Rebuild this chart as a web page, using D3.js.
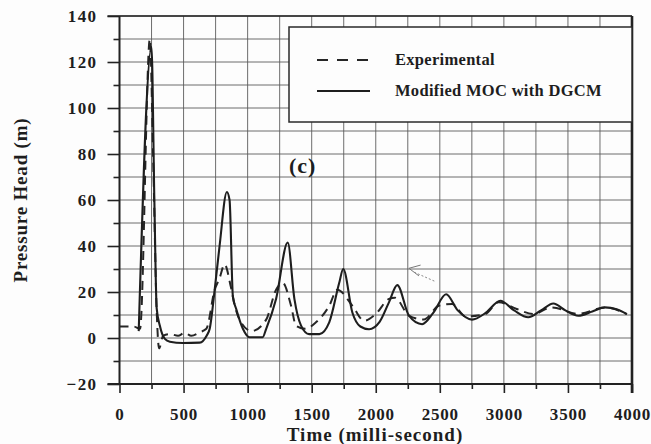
<!DOCTYPE html>
<html>
<head>
<meta charset="utf-8">
<title>Pressure head (c)</title>
<style type="text/css">
    body { margin: 0; background: #fdfdfd; }
    svg text {
        font-family: "Liberation Serif", "Times New Roman", serif;
        font-weight: bold;
        fill: #1e1e1e;
    }
    .grid line { stroke: #5c5c5c; stroke-width: 0.9; }
    .axis path { display: none; }
    .axis line { stroke: #222; stroke-width: 1.6; }
</style>
</head>
<body>
<script src="https://d3js.org/d3.v7.min.js" type="text/javascript"></script>
<script type="text/javascript">

// time (ms) / pressure head (m)
var modelT = [150, 250, 272, 290, 315, 354, 393, 494, 626, 680, 704, 743, 781, 838, 859, 885, 911, 963, 1015, 1117, 1145, 1222, 1313, 1365, 1417, 1480, 1560, 1637, 1715, 1746, 1818, 1880, 1948, 2030, 2103, 2168, 2259, 2362, 2450, 2549, 2640, 2751, 2860, 2972, 3080, 3190, 3290, 3386, 3480, 3581, 3690, 3788, 3880, 3960];
var modelH = [3, 126.5, 60, 13, 5.3, -0.4, -1.6, -2.2, -2, 1, 4, 21, 40, 63.5, 60, 18, 12.6, 4, 0.3, 0.3, 4, 17, 41.5, 17, 5.4, 1.7, 1.7, 6.8, 24, 30, 11, 5, 3.8, 7, 15.5, 23, 9.7, 6, 11, 19, 12, 8, 11, 16.2, 12, 9, 12, 15, 12, 9.7, 11.5, 13.3, 12.5, 10.4];

var expT = [0, 110, 160, 237, 262, 290, 309, 341, 393, 457, 509, 561, 626, 678, 743, 781, 820, 870, 900, 937, 1030, 1145, 1222, 1274, 1339, 1378, 1450, 1533, 1637, 1700, 1818, 1909, 2000, 2103, 2150, 2259, 2375, 2492, 2596, 2700, 2855, 2959, 3100, 3230, 3373, 3580, 3788, 3960];
var expH = [5, 5, 4, 130, 80, 12, -4.5, 1, 1.7, 1, 2.2, 1, 2.5, 4, 21, 26, 32, 22, 14, 8, 3, 8, 21, 24, 14, 5.3, 4, 6.8, 14, 21, 14, 7.5, 10.4, 17, 17.5, 9.7, 8, 14, 14.8, 9.4, 10.4, 15.5, 12.6, 10.4, 13.3, 10.5, 13.3, 10.4];

var xTicks = [0, 500, 1000, 1500, 2000, 2500, 3000, 3500, 4000];
var yTicks = [-20, 0, 20, 40, 60, 80, 100, 120, 140];
var seriesNames = ['Experimental', 'Modified MOC with DGCM'];

var W = 651, H = 444;
var svg = d3.select('body').append('svg')
    .attr('width', W).attr('height', H);

var x = d3.scaleLinear().domain([0, 4000]).range([119.5, 632]);
var y = d3.scaleLinear().domain([-20, 140]).range([384, 16]);

// grid
var grid = svg.append('g').attr('class', 'grid');
grid.selectAll('.gv').data(d3.range(250, 4000, 250)).enter().append('line')
    .attr('x1', function (d) { return x(d); }).attr('x2', function (d) { return x(d); })
    .attr('y1', y(-20)).attr('y2', y(140));
grid.selectAll('.gh').data(d3.range(-10, 150, 10)).enter().append('line')
    .attr('x1', x(0)).attr('x2', x(4000))
    .attr('y1', function (d) { return y(d); }).attr('y2', function (d) { return y(d); });

// axes: major + minor ticks
svg.append('g').attr('class', 'axis')
    .attr('transform', 'translate(0,' + y(-20) + ')')
    .call(d3.axisBottom(x).tickValues(xTicks).tickSize(9).tickPadding(15).tickFormat(d3.format('d')))
    .selectAll('text').style('font-size', '17px').style('letter-spacing', '0.8px').style('font-family', null);
svg.append('g').attr('class', 'axis')
    .attr('transform', 'translate(0,' + y(-20) + ')')
    .call(d3.axisBottom(x).tickValues(d3.range(250, 4000, 500)).tickSize(5).tickFormat(''));
svg.append('g').attr('class', 'axis')
    .attr('transform', 'translate(' + x(0) + ',0)')
    .call(d3.axisLeft(y).tickValues(yTicks).tickSize(12).tickPadding(10).tickFormat(d3.format('d')))
    .selectAll('text').style('font-size', '17px').style('letter-spacing', '1.4px').style('font-family', null);
svg.append('g').attr('class', 'axis')
    .attr('transform', 'translate(' + x(0) + ',0)')
    .call(d3.axisLeft(y).tickValues(d3.range(-10, 140, 20)).tickSize(6).tickFormat(''));
svg.selectAll('.axis text').attr('font-size', null);

// frame
svg.append('line').attr('x1', x(0)).attr('x2', x(0)).attr('y1', y(140)).attr('y2', y(-20))
    .attr('stroke', '#222').attr('stroke-width', 2);
svg.append('line').attr('x1', x(0) - 12).attr('x2', x(4000)).attr('y1', y(-20)).attr('y2', y(-20))
    .attr('stroke', '#222').attr('stroke-width', 2.2);
svg.append('line').attr('x1', x(4000)).attr('x2', x(4000)).attr('y1', y(140)).attr('y2', y(-20) + 9)
    .attr('stroke', '#222').attr('stroke-width', 2.6);
svg.append('line').attr('x1', x(0) - 12).attr('x2', x(4000)).attr('y1', y(140)).attr('y2', y(140))
    .attr('stroke', '#222').attr('stroke-width', 1.6);

// curves
var line = d3.line()
    .x(function (d) { return x(d[0]); })
    .y(function (d) { return y(d[1]); })
    .curve(d3.curveMonotoneX);

var expData = expT.map(function (t, i) { return [t, expH[i]]; });
var modelData = modelT.map(function (t, i) { return [t, modelH[i]]; });

svg.append('path').datum(expData).attr('d', line)
    .attr('fill', 'none').attr('stroke', '#262626').attr('stroke-width', 2)
    .attr('stroke-dasharray', '9,6');
svg.append('path').datum(modelData).attr('d', line)
    .attr('fill', 'none').attr('stroke', '#1e1e1e').attr('stroke-width', 2.1);

// faint hand-drawn arrow of the scan
svg.append('path')
    .attr('d', 'M' + x(2350) + ',' + y(31.7) + 'L' + x(2259) + ',' + y(30.3) + 'L' + x(2337) + ',' + y(27))
    .attr('fill', 'none').attr('stroke', '#777').attr('stroke-width', 1);
svg.append('path')
    .attr('d', 'M' + x(2300) + ',' + y(28.6) + 'L' + x(2467) + ',' + y(24.5))
    .attr('fill', 'none').attr('stroke', '#888').attr('stroke-width', 1).attr('stroke-dasharray', '2,2');

// legend
var lg = svg.append('g');
lg.append('rect').attr('x', 289).attr('y', 27).attr('width', x(4000) - 289).attr('height', 95)
    .attr('fill', '#fdfdfd').attr('stroke', '#2a2a2a').attr('stroke-width', 1.5);
lg.append('line').attr('x1', 317).attr('x2', 370).attr('y1', 60).attr('y2', 60)
    .attr('stroke', '#262626').attr('stroke-width', 2).attr('stroke-dasharray', '11,9');
lg.append('line').attr('x1', 317).attr('x2', 370).attr('y1', 91).attr('y2', 91)
    .attr('stroke', '#1e1e1e').attr('stroke-width', 2);
lg.selectAll('text').data(seriesNames).enter().append('text')
    .attr('x', 395).attr('y', function (d, i) { return 65 + i * 31; })
    .style('font-size', '16.5px').style('letter-spacing', '0.3px')
    .text(function (d) { return d; });

svg.append('text').attr('x', 289).attr('y', 173).style('font-size', '22px')
    .style('letter-spacing', '1px').text('(c)');

// axis titles
svg.append('text').attr('x', 375).attr('y', 441)
    .attr('text-anchor', 'middle').style('font-size', '19px').style('letter-spacing', '1px')
    .text('Time (milli-second)');
svg.append('text').attr('transform', 'translate(27,200) rotate(-90)')
    .attr('text-anchor', 'middle').style('font-size', '19px').style('letter-spacing', '0.8px')
    .text('Pressure Head (m)');

</script>
</body>
</html>
